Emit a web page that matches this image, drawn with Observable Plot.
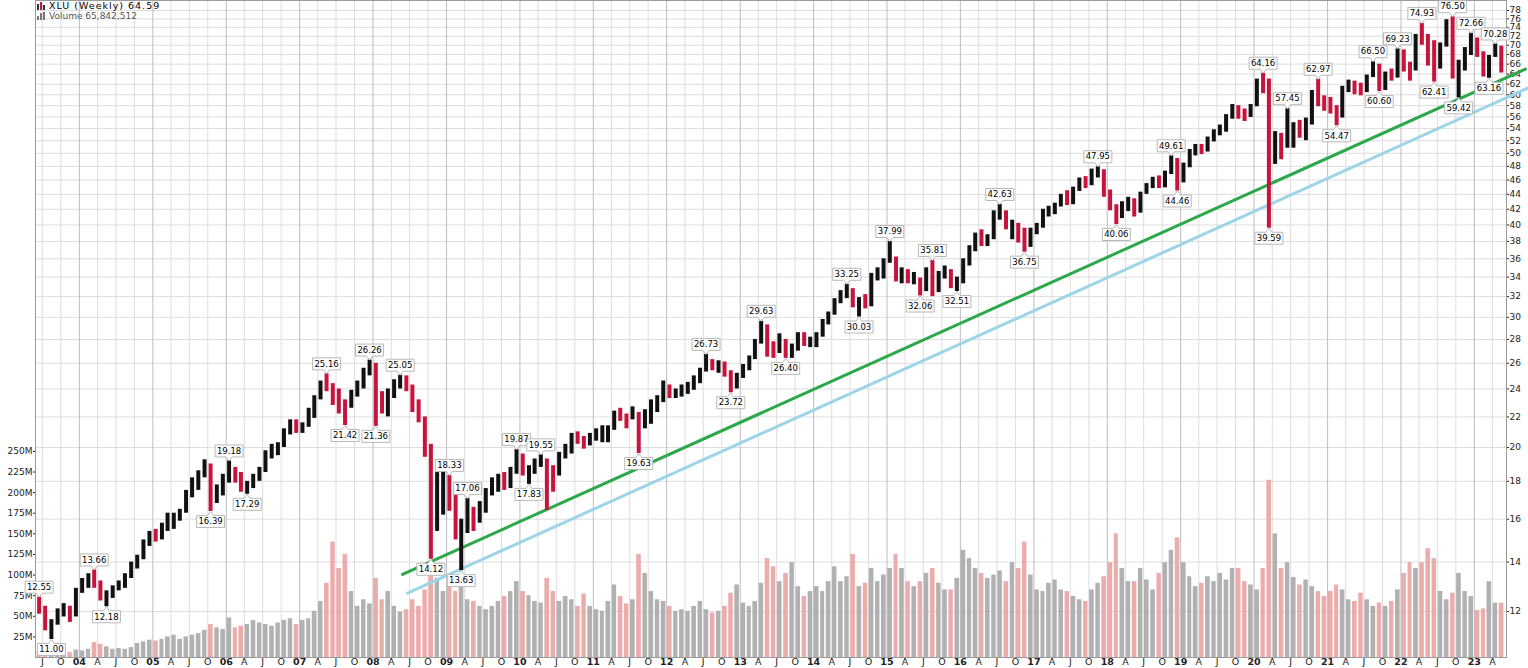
<!DOCTYPE html>
<html>
<head>
<meta charset="utf-8">
<script src="https://cdn.jsdelivr.net/npm/d3@7"></script>
<script src="https://cdn.jsdelivr.net/npm/@observablehq/plot@0.6"></script>
<style>
html,body{margin:0;padding:0;background:#fff;}
#chart{position:relative;width:1528px;height:668px;overflow:hidden;background:#fff;}
#chart svg{position:absolute;left:0;top:0;}
#legend{position:absolute;left:37px;top:0;font-family:"DejaVu Sans",Verdana,sans-serif;pointer-events:none;}
#legend .l1{position:absolute;left:0;top:0;white-space:nowrap;font-size:9.5px;letter-spacing:1px;line-height:11px;color:#000;}
#legend .l2{position:absolute;left:0;top:11px;white-space:nowrap;font-size:9px;line-height:10px;color:#555;}
.ico{display:inline-block;width:10px;height:8px;margin-right:2px;position:relative;vertical-align:-1px;letter-spacing:0}
.ico i{position:absolute;bottom:0;width:2px;}
</style>
</head>
<body>
<div id="chart">
  <div id="legend">
    <div class="l1"><span class="ico"><i style="left:0;height:6px;background:#333"></i><i style="left:3px;height:8px;background:#c8143c"></i><i style="left:6px;height:5px;background:#333"></i></span>XLU (Weekly) 64.59</div>
    <div class="l2"><span class="ico"><i style="left:0;height:4px;background:#777"></i><i style="left:3px;height:7px;background:#777"></i><i style="left:6px;height:8px;background:#777"></i></span>Volume 65,842,512</div>
  </div>
</div>
<script>
// ---------------- DATA (monthly, Jun 2003 .. May 2023) ----------------
const firstMonth = "2003-06-01";
const highs = [
  12.55,12.2,11.7,12.1,12.3,12.2,12.9,
  13.3,13.5,13.66,13.2,12.8,13.0,13.2,13.5,14.0,14.3,15.0,15.4,
  15.5,15.8,16.3,16.3,16.5,17.5,18.2,18.6,19.25,19.0,17.8,18.4,
  19.18,18.8,18.5,18.0,18.4,18.8,19.8,20.2,20.3,21.2,21.8,21.8,
  21.6,22.6,23.5,24.6,25.16,24.4,24.0,23.2,23.9,24.6,25.6,26.26,
  26.0,23.8,24.0,24.7,25.05,25.0,24.3,23.2,22.0,20.2,18.5,18.6,
  18.33,17.3,16.0,17.06,16.6,16.9,17.6,18.2,18.4,18.5,18.8,19.87,
  19.6,18.9,19.3,19.55,19.3,18.9,19.7,20.2,20.9,21.0,20.7,20.9,
  21.2,21.4,21.4,22.4,22.6,22.2,22.7,22.3,22.5,23.2,23.5,24.6,
  24.3,24.0,24.3,24.5,25.0,25.6,26.73,26.3,26.2,26.1,25.4,25.2,
  25.9,26.6,28.0,29.63,29.3,27.8,28.5,28.0,27.6,28.6,28.6,28.2,
  28.6,29.8,30.5,31.8,32.6,33.25,32.8,31.9,32.2,34.4,35.0,36.0,
  37.99,36.2,35.0,34.8,34.5,33.9,35.0,35.81,34.6,35.2,34.8,34.0,
  36.0,37.5,39.0,39.4,38.8,41.8,42.63,41.8,40.6,40.2,39.6,39.6,
  40.2,42.0,42.4,42.8,44.0,44.5,45.0,46.3,46.5,47.6,47.95,47.5,
  44.6,42.6,43.0,43.6,43.4,44.3,45.5,46.4,46.6,47.3,49.61,49.2,
  48.5,50.6,51.4,51.4,52.6,53.8,54.6,56.4,58.2,58.0,57.4,58.2,
  63.0,64.16,63.0,53.5,53.2,57.45,55.0,55.4,55.8,60.8,62.97,59.8,
  59.5,58.0,61.6,62.8,62.6,62.2,63.8,66.5,66.0,64.4,65.0,69.23,
  69.0,66.4,72.4,74.93,72.4,71.0,70.5,75.8,76.5,66.8,69.5,72.66,
  71.6,68.6,67.8,70.28,69.8
];
const lows = [
  11.9,11.3,11.0,11.5,11.8,11.6,11.8,
  12.7,12.9,12.9,12.4,12.18,12.5,12.8,12.9,13.3,13.7,14.1,14.7,
  14.9,15.0,15.4,15.5,15.9,16.3,17.1,17.5,18.2,16.39,16.8,17.2,
  17.9,17.9,17.4,17.29,17.6,18.0,18.5,19.3,19.5,20.0,20.8,20.9,
  20.9,21.3,21.9,23.2,23.8,22.8,22.2,21.42,22.6,23.4,24.0,25.0,
  21.36,22.2,22.0,23.3,24.0,23.8,22.3,21.6,19.4,14.12,15.4,16.2,
  16.4,15.0,13.63,15.3,15.4,15.8,16.3,17.2,17.4,17.5,17.6,18.4,
  18.3,17.83,18.4,18.8,16.44,17.4,18.3,19.3,19.6,20.2,19.9,20.1,
  20.4,20.3,20.3,21.1,21.7,21.2,21.8,19.63,21.2,21.5,22.3,23.0,
  23.3,23.3,23.4,23.6,23.9,24.4,25.3,25.4,25.2,24.9,23.72,24.0,
  24.8,25.4,26.3,27.6,26.5,26.4,26.8,26.4,26.4,27.0,27.4,27.3,
  27.3,28.2,29.3,30.2,31.3,31.8,30.9,30.03,30.8,31.0,33.6,33.8,
  35.5,33.5,33.3,33.3,33.2,32.06,32.5,32.0,32.4,33.8,32.8,32.51,
  33.3,35.2,36.8,37.4,37.4,38.2,40.6,39.4,38.2,37.8,36.75,37.3,
  38.8,39.6,41.0,41.3,42.3,42.5,42.6,44.4,44.8,45.2,46.3,43.6,
  41.8,40.06,40.8,41.7,41.0,41.5,44.0,44.8,44.8,44.9,46.8,44.46,
  45.6,47.8,49.6,49.8,50.2,51.8,52.8,53.4,55.6,55.6,55.2,55.9,
  57.8,60.2,39.59,48.3,49.0,50.8,50.8,52.4,52.0,54.6,57.8,57.0,
  56.5,54.47,55.8,60.4,60.0,59.8,60.4,63.3,60.6,60.8,62.6,63.2,
  64.4,62.6,64.6,70.0,65.6,62.41,65.0,69.6,63.0,59.42,64.6,67.8,
  67.4,63.4,63.16,67.4,64.2
];
const closes = [
  12.1,11.4,11.6,12.0,12.1,11.9,12.8,
  13.1,13.3,13.1,12.5,12.6,12.9,13.0,13.4,13.9,14.2,14.9,15.2,
  15.1,15.6,15.6,16.2,16.4,17.3,17.9,18.3,19.0,17.0,17.5,17.9,
  18.6,18.4,17.7,17.9,18.2,18.6,19.6,19.8,20.1,21.0,21.5,21.3,
  21.4,22.3,23.3,24.4,24.2,23.4,22.8,22.7,23.7,24.4,25.3,25.8,
  23.5,22.7,23.5,24.3,24.6,24.2,22.8,22.0,20.2,17.0,17.5,17.9,
  17.0,15.4,15.6,16.3,16.0,16.5,17.4,17.9,18.1,17.8,18.5,19.5,
  18.5,18.5,19.0,19.2,18.4,18.3,19.5,19.7,20.6,20.5,20.2,20.7,
  21.0,21.2,21.2,22.2,22.1,21.9,22.2,21.8,22.0,22.9,23.2,24.2,
  23.6,23.8,24.0,24.3,24.8,25.4,26.3,25.6,25.8,25.4,24.6,24.8,
  25.7,26.4,27.8,29.2,27.0,26.9,27.9,26.6,27.1,28.3,27.7,28.0,
  28.4,29.6,30.3,31.6,32.0,32.6,31.4,31.6,31.3,34.2,34.6,35.6,
  36.0,34.0,34.2,33.7,33.7,32.6,34.8,33.4,34.0,34.5,33.2,33.6,
  35.6,37.2,38.7,38.2,38.6,41.5,41.7,39.8,39.8,38.8,37.6,39.2,
  39.8,41.8,41.8,42.5,43.9,42.7,44.8,46.0,45.4,47.3,47.4,44.2,
  42.3,41.6,42.8,43.2,42.0,44.1,45.2,46.1,45.6,47.0,48.6,45.6,
  48.0,50.3,51.0,50.3,52.3,53.6,53.6,55.9,57.6,57.0,55.8,57.9,
  62.6,61.0,50.0,52.4,51.6,51.8,54.8,53.2,55.0,60.2,59.6,58.4,
  57.6,56.0,61.2,62.4,60.8,60.4,63.6,65.4,61.2,64.0,63.5,68.9,
  66.0,64.8,71.8,70.5,70.0,66.0,70.2,75.2,64.0,65.8,69.0,69.2,
  68.0,64.2,67.4,69.4,64.59
];
// weekly volume, millions (upper typical level per month)
const volumes = [
  7,8,7,8,7,6,9,
  8,10,18,16,13,10,11,10,12,17,19,21,
  20,22,25,27,22,25,27,29,33,40,36,34,
  48,36,38,40,45,42,40,38,42,45,47,40,
  45,47,56,68,90,140,108,125,80,62,70,65,
  96,70,80,62,55,58,70,62,82,115,96,80,
  88,80,92,70,68,62,58,62,68,74,80,92,
  80,75,68,66,96,80,68,74,70,62,77,62,
  58,56,68,88,74,65,70,125,102,80,70,68,
  62,56,58,56,62,68,58,54,56,62,78,88,
  66,62,68,90,120,110,92,102,115,86,74,80,
  86,80,92,110,92,98,125,86,90,108,92,100,
  108,125,108,92,86,92,102,108,90,82,82,96,
  130,120,108,102,96,100,105,92,115,108,140,100,
  82,80,90,94,82,80,74,70,68,82,90,98,
  115,150,108,92,92,108,94,82,102,115,130,145,
  115,98,86,90,98,92,102,94,108,108,92,88,
  82,108,215,150,108,115,97,88,94,86,80,74,
  80,88,82,70,68,78,70,62,66,62,68,82,
  102,115,108,115,132,120,80,70,78,102,80,74,
  57,59,92,66,65.8
];
// swing high / low labels
const annMonths = ["2003-06","2003-08","2004-03","2004-05","2005-10","2006-01","2006-04","2007-05","2007-08","2007-12","2008-01","2008-05","2008-10","2009-01","2009-03","2009-04","2009-12","2010-02","2010-04","2011-08","2012-07","2012-11","2013-04","2013-08","2014-06","2014-08","2015-01","2015-06","2015-08","2015-12","2016-07","2016-11","2017-11","2018-02","2018-11","2018-12","2020-02","2020-03","2020-06","2020-11","2021-02","2021-08","2021-09","2021-12","2022-04","2022-06","2022-09","2022-10","2022-12","2023-03","2023-04"];
const annValues = [12.55,11.00,13.66,12.18,16.39,19.18,17.29,25.16,21.42,26.26,21.36,25.05,14.12,18.33,13.63,17.06,19.87,17.83,19.55,19.63,26.73,23.72,29.63,26.40,33.25,30.03,37.99,32.06,35.81,32.51,42.63,36.75,47.95,40.06,49.61,44.46,64.16,39.59,57.45,62.97,54.47,66.50,60.60,69.23,74.93,62.41,76.50,59.42,72.66,63.16,70.28];
const annSide = ["hi","lo","hi","lo","lo","hi","lo","hi","lo","hi","lo","hi","lo","hi","lo","hi","hi","lo","hi","lo","hi","lo","hi","lo","hi","lo","hi","lo","hi","lo","hi","lo","hi","lo","hi","lo","hi","lo","hi","hi","lo","hi","lo","hi","hi","lo","hi","lo","hi","lo","hi"];
// trend lines (start / end points)
const greenLine = [{date:"2008-05-27", value:13.47},{date:"2023-09-12", value:65.0}];
const blueLine  = [{date:"2008-06-21", value:12.71},{date:"2023-09-27", value:61.3}];
// axis ticks
const priceTicks = [12,14,16,18,20,22,24,26,28,30,32,34,36,38,40,42,44,46,48,50,52,54,56,58,60,62,64,66,68,70,72,74,76,78];
const volumeTicks = [25,50,75,100,125,150,175,200,225,250];
const monthLetter = {3:"A",6:"J",9:"O"};

// ---------------- BUILD ----------------
const W = 1528, H = 668, ML = 35, MR = 22, MT = 0, MB = 11;
const xDomain = [new Date("2003-05-28"), new Date("2023-06-10")];
const yDomain = [10.40, 80.47];
const volDomain = [0, 797];
const FONT = "DejaVu Sans, Verdana, sans-serif";

const start = new Date(firstMonth);
const bars = highs.map((h, i) => {
  const m = d3.utcMonth.offset(start, i);
  return {
    start: m, end: d3.utcMonth.offset(m, 1), date: d3.utcDay.offset(m, 14),
    high: h, low: lows[i], close: closes[i], vol: volumes[i],
    down: i === 0 ? true : closes[i] < closes[i - 1]
  };
});
const ann = annMonths.map((m, i) => ({
  date: d3.utcDay.offset(new Date(m + "-01"), 14), value: annValues[i],
  label: annValues[i].toFixed(2), side: annSide[i]
}));
const annHi = ann.filter(d => d.side === "hi");
const annLo = ann.filter(d => d.side === "lo");
const lineG = greenLine.map(d => ({date: new Date(d.date), value: d.value}));
const lineB = blueLine.map(d => ({date: new Date(d.date), value: d.value}));

const quarterTicks = d3.utcMonth.every(3).range(new Date("2003-06-01"), new Date("2023-06-10"));
const yearTicks = quarterTicks.filter(d => d.getUTCMonth() === 0);
const monthTicks = quarterTicks.filter(d => d.getUTCMonth() !== 0);

// callout shapes (box with a small pointer), drawn as custom dot symbols
const BW = 14, BH = 12, PH = 4, PW = 3;
const calloutUp = {draw(ctx) { // box above the point
  ctx.moveTo(0, 0); ctx.lineTo(-PW, -PH); ctx.lineTo(-BW, -PH); ctx.lineTo(-BW, -PH - BH);
  ctx.lineTo(BW, -PH - BH); ctx.lineTo(BW, -PH); ctx.lineTo(PW, -PH); ctx.closePath();
}};
const calloutDown = {draw(ctx) { // box below the point
  ctx.moveTo(0, 0); ctx.lineTo(-PW, PH); ctx.lineTo(-BW, PH); ctx.lineTo(-BW, PH + BH);
  ctx.lineTo(BW, PH + BH); ctx.lineTo(BW, PH); ctx.lineTo(PW, PH); ctx.closePath();
}};

const common = {width: W, height: H, marginLeft: ML, marginRight: MR, marginTop: MT, marginBottom: MB};

// layer 1 : grid + price axis + time axis
const layer1 = Plot.plot({
  ...common,
  style: {fontFamily: FONT, fontSize: "9px", background: "#fff", color: "#222", overflow: "visible"},
  x: {type: "utc", domain: xDomain},
  y: {type: "log", domain: yDomain},
  marks: [
    Plot.gridY(priceTicks, {stroke: "#dedede", strokeOpacity: 1}),
    Plot.gridX(monthTicks, {stroke: "#dedede", strokeOpacity: 1}),
    Plot.gridX(yearTicks, {stroke: "#bdbdbd", strokeOpacity: 1}),
    Plot.axisY(priceTicks, {anchor: "right", tickSize: 2, tickPadding: 1, tickFormat: d => String(d), fontSize: 9, label: null}),
    Plot.axisX(monthTicks, {tickSize: 0, tickPadding: 1, tickFormat: d => monthLetter[d.getUTCMonth()], fontSize: 9.5, label: null}),
    Plot.axisX(yearTicks, {tickSize: 0, tickPadding: 1, tickFormat: d3.utcFormat("%y"), fontWeight: "bold", fontSize: 9.5, label: null}),
    Plot.frame({stroke: "#9a9a9a"})
  ]
});

// layer 2 : volume
const layer2 = Plot.plot({
  ...common,
  style: {fontFamily: FONT, fontSize: "9px", background: "transparent", color: "#222", overflow: "visible"},
  x: {type: "utc", domain: xDomain, axis: null},
  y: {domain: volDomain},
  marks: [
    Plot.rect(bars.filter(d => !d.down), {x1: "start", x2: "end", y1: 0, y2: "vol", fill: "#a9a9a9", fillOpacity: 0.9, insetLeft: 0.8, insetRight: 0.8}),
    Plot.rect(bars.filter(d => d.down), {x1: "start", x2: "end", y1: 0, y2: "vol", fill: "#eaa3a3", fillOpacity: 0.9, insetLeft: 0.8, insetRight: 0.8}),
    Plot.axisY(volumeTicks, {anchor: "left", tickSize: 2, tickPadding: 1, tickFormat: d => d + "M", fontSize: 9, label: null})
  ]
});

// layer 3 : price bars, trend lines, labels
const layer3 = Plot.plot({
  ...common,
  style: {fontFamily: FONT, fontSize: "9px", background: "transparent", color: "#000", overflow: "visible"},
  x: {type: "utc", domain: xDomain, axis: null},
  y: {type: "log", domain: yDomain, axis: null},
  marks: [
    Plot.line(lineB, {x: "date", y: "value", stroke: "#9dd4e8", strokeWidth: 3}),
    Plot.line(lineG, {x: "date", y: "value", stroke: "#2ca84a", strokeWidth: 3}),
    Plot.ruleX(bars.filter(d => !d.down), {x: "date", y1: "low", y2: "high", stroke: "#111", strokeWidth: 4}),
    Plot.ruleX(bars.filter(d => d.down), {x: "date", y1: "low", y2: "high", stroke: "#c8143c", strokeWidth: 4}),
    Plot.dot(annHi, {x: "date", y: "value", symbol: calloutUp, r: 5, fill: "white", stroke: "#b8b8b8", strokeWidth: 1}),
    Plot.dot(annLo, {x: "date", y: "value", symbol: calloutDown, r: 5, fill: "white", stroke: "#b8b8b8", strokeWidth: 1}),
    Plot.text(annHi, {x: "date", y: "value", text: "label", dy: -(PH + BH / 2), fontSize: 8.5, fill: "#000", fontFamily: FONT}),
    Plot.text(annLo, {x: "date", y: "value", text: "label", dy: PH + BH / 2, fontSize: 8.5, fill: "#000", fontFamily: FONT})
  ]
});

const chart = document.getElementById("chart");
const legend = document.getElementById("legend");
chart.insertBefore(layer1, legend);
chart.insertBefore(layer2, legend);
chart.insertBefore(layer3, legend);
</script>
</body>
</html>
